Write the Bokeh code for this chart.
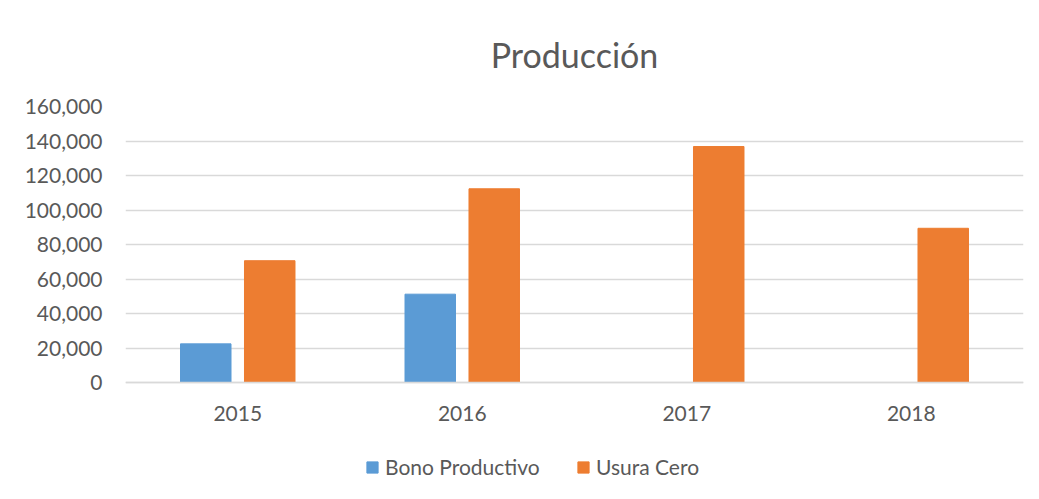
from bokeh.plotting import figure
from bokeh.models import ColumnDataSource, FactorRange, Range1d, FixedTicker, NumeralTickFormatter, Legend, LegendItem
from bokeh.transform import dodge
from bokeh.embed import file_html
from bokeh.resources import INLINE

years = ["2015", "2016", "2017", "2018"]
bono_productivo = [22400, 51200, 0, 0]
usura_cero = [70600, 112300, 136800, 89400]
y_ticks = [0, 20000, 40000, 60000, 80000, 100000, 120000, 140000, 160000]

FONT = "Lato"
TEXT = "#595959"
GRID = "#D9D9D9"
BLUE = "#5B9BD5"
ORANGE = "#ED7D31"

# layout (pixels)
W, H = 1031, 491
TOP, LEFT, RIGHT = 106, 125, 8
PLOT_H = 276          # pixel height of the 0..160,000 value band
EXTRA_H = H - TOP - PLOT_H   # room under the zero line for labels and legend

y_max = y_ticks[-1]
y_min = -y_max * EXTRA_H / PLOT_H

source = ColumnDataSource(dict(year=years, bono=bono_productivo, usura=usura_cero))

p = figure(
    x_range=FactorRange(*years),
    y_range=Range1d(y_min, y_max),
    width=W, height=H,
    output_backend="svg", toolbar_location=None,
    min_border_left=LEFT, min_border_right=RIGHT,
    min_border_top=TOP, min_border_bottom=0,
    title="Producción",
)
p.outline_line_color = None
p.background_fill_color = "white"
p.border_fill_color = "white"

p.title.align = "center"
p.title.text_font = FONT
p.title.text_font_size = "34px"
p.title.text_font_style = "normal"
p.title.text_color = TEXT
p.title.offset = 0
p.title.standoff = 63

r1 = p.vbar(x=dodge("year", -0.1425, range=p.x_range), top="bono", width=0.225,
            source=source, fill_color=BLUE, line_color=BLUE, line_width=1)
r2 = p.vbar(x=dodge("year", 0.1425, range=p.x_range), top="usura", width=0.225,
            source=source, fill_color=ORANGE, line_color=ORANGE, line_width=1)

p.yaxis.ticker = FixedTicker(ticks=y_ticks)
p.yaxis.formatter = NumeralTickFormatter(format="0,0")
p.yaxis.axis_line_color = None
p.yaxis.major_tick_line_color = None
p.yaxis.minor_tick_line_color = None
p.yaxis.major_label_text_font = FONT
p.yaxis.major_label_text_font_size = "21px"
p.yaxis.major_label_text_color = TEXT
p.yaxis.major_label_standoff = 17

p.xaxis.fixed_location = 0
p.xaxis.axis_line_color = GRID
p.xaxis.axis_line_width = 1.5
p.xaxis.major_tick_line_color = None
p.xaxis.minor_tick_line_color = None
p.xaxis.major_label_text_font = FONT
p.xaxis.major_label_text_font_size = "21px"
p.xaxis.major_label_text_color = TEXT
p.xaxis.major_label_standoff = 17

p.xgrid.grid_line_color = None
p.ygrid.grid_line_color = GRID
p.ygrid.grid_line_width = 1.5
p.ygrid.ticker = FixedTicker(ticks=y_ticks)

legend = Legend(
    items=[LegendItem(label="Bono Productivo", renderers=[r1]),
           LegendItem(label="Usura Cero", renderers=[r2])],
    orientation="horizontal",
    location=(240, 12),
    glyph_width=14, glyph_height=14,
    label_text_font=FONT, label_text_font_size="21px", label_text_color=TEXT,
    label_standoff=6, label_width=187, spacing=4, padding=0, margin=0,
    border_line_color=None, background_fill_alpha=0,
)
p.add_layout(legend, "center")

open("out.html", "w").write(file_html(p, INLINE))
